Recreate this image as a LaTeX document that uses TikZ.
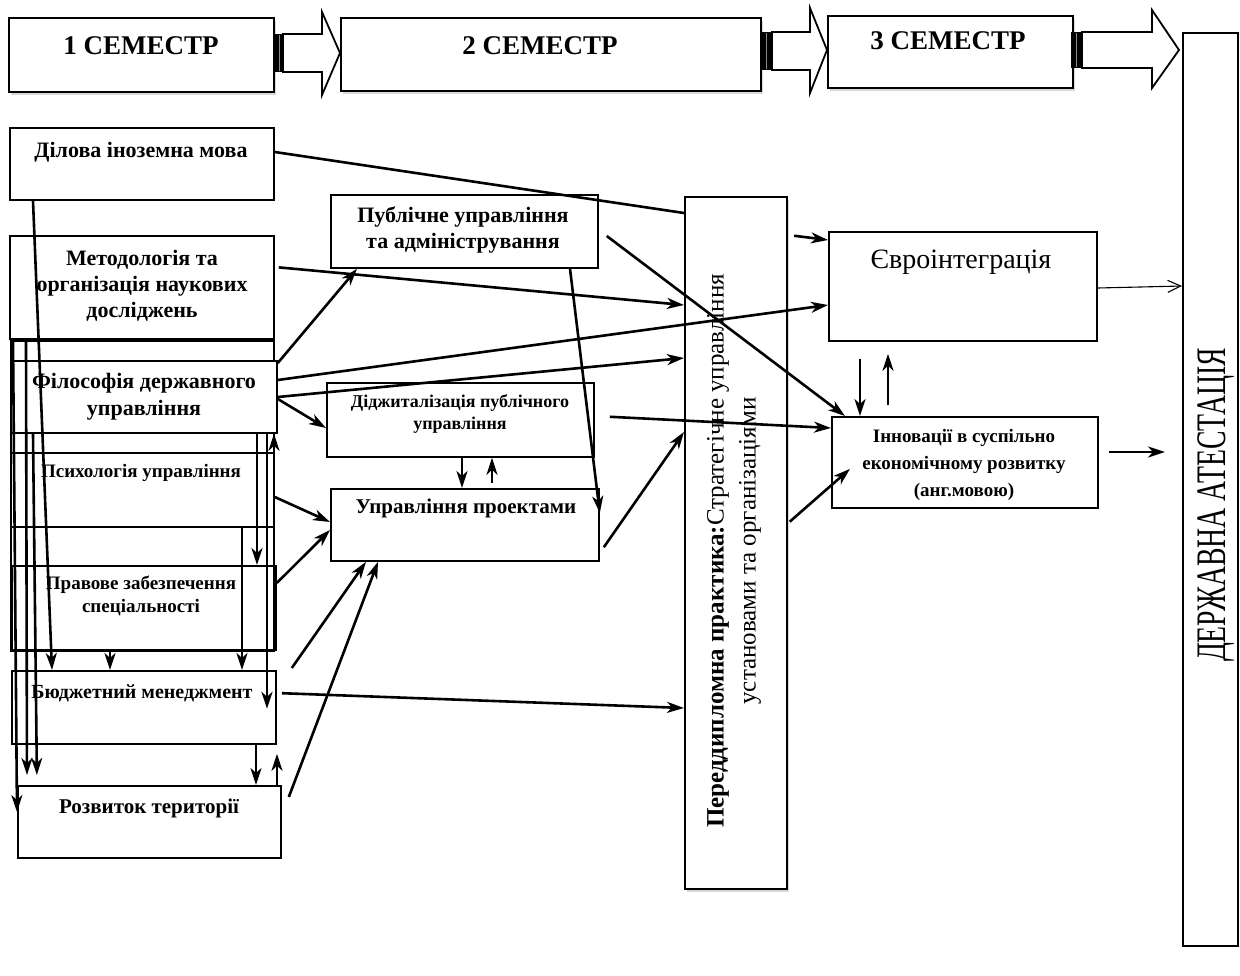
\documentclass[tikz,border=0pt]{standalone}
\usepackage{fontspec}
\usepackage{graphicx}
\setmainfont{Liberation Serif}
\usetikzlibrary{arrows.meta,shadows}
\newcommand\fsz[2]{\fontsize{#1pt}{#2pt}\selectfont}
\begin{document}
\begin{tikzpicture}[x=1pt,y=-1pt,
  box/.style={draw, line width=1.8pt, fill=white, inner sep=0pt, anchor=north west},
  shbox/.style={box, line width=2.2pt, drop shadow={shadow xshift=2pt,shadow yshift=-3pt,fill=black!30}},
  lbl/.style={inner sep=0pt, align=center},
  ar/.style={line width=2.6pt, -{Stealth[length=17pt,width=11pt,inset=5pt]}},
  ln/.style={line width=2.6pt},
  thinar/.style={line width=1.1pt, -{Straight Barb[length=13pt,width=12pt,line width=1.1pt]}},
  blk/.style={line width=1.8pt, fill=white, line join=miter}]
\useasboundingbox (0,0) rectangle (1240,975);
\fill[white] (0,0) rectangle (1240,975);

% header boxes
\node[shbox, minimum width=265pt, minimum height=74pt] (s1) at (8,17) {};
\node[shbox, minimum width=420pt, minimum height=73pt] (s2) at (340,17) {};
\node[shbox, minimum width=245pt, minimum height=72pt] (s3) at (827,15) {};
\node[box, minimum width=55pt, minimum height=913pt] (da) at (1182,32) {};

% header block arrows
\draw[blk] (283,34) -- (322,34) -- (322,12) -- (340,53) -- (322,95) -- (322,72) -- (283,72) -- cycle;
\fill (273,34) rectangle (283,72);
\draw[black!45, line width=0.8pt] (279,35) -- (279,71);
\draw[blk] (772,32) -- (810,32) -- (810,8) -- (827,50) -- (810,93) -- (810,70) -- (772,70) -- cycle;
\fill (760,32) rectangle (772,70);
\draw[black!45, line width=0.8pt] (766,33) -- (766,69);
\draw[blk] (1082,32) -- (1152,32) -- (1152,10) -- (1179,50) -- (1152,88) -- (1152,68) -- (1082,68) -- cycle;
\fill (1071,32) rectangle (1082,68);
\draw[black!45, line width=0.8pt] (1076,33) -- (1076,67);

% left column boxes
\node[box, minimum width=264pt, minimum height=72pt] (dil) at (9,127) {};
\node[box, minimum width=264pt, minimum height=103pt] (met) at (9,235) {};
\node[box, minimum width=263pt, minimum height=310pt] (frame) at (10,340) {};
\node[box, minimum width=266pt, minimum height=72pt] (fil) at (10,360) {};
\node[box, minimum width=263pt, minimum height=74pt] (psy) at (10,452) {};
\node[box, minimum width=264pt, minimum height=84pt] (prav) at (11,565) {};
\node[box, minimum width=264pt, minimum height=73pt] (bud) at (11,670) {};
\node[box, minimum width=263pt, minimum height=72pt] (roz) at (17,785) {};

% middle boxes
\node[box, minimum width=267pt, minimum height=73pt] (pub) at (330,194) {};
\node[box, minimum width=267pt, minimum height=74pt] (dig) at (326,382) {};
\node[box, minimum width=268pt, minimum height=72pt] (upr) at (330,488) {};
\node[shbox, minimum width=102pt, minimum height=692pt] (per) at (684,196) {};
\node[box, minimum width=268pt, minimum height=109pt] (evro) at (828,231) {};
\node[box, minimum width=266pt, minimum height=91pt] (inn) at (831,416) {};

% texts
\node[lbl, font=\bfseries\fsz{27}{32}] (s1t) at (141,46) {1 СЕМЕСТР};
\node[lbl, font=\bfseries\fsz{27}{32}] (s2t) at (540,46) {2 СЕМЕСТР};
\node[lbl, font=\bfseries\fsz{27}{32}] (s3t) at (948,41) {3 СЕМЕСТР};
\node[lbl, rotate=90, font=\fsz{42}{48}] (dat) at (1216,505) {\scalebox{0.66}[1]{ДЕРЖАВНА АТЕСТАЦІЯ}};

\node[lbl, font=\bfseries\fsz{22}{26}] (dilt) at (141,152) {Ділова іноземна мова};
\node[lbl, font=\bfseries\fsz{22}{26}] (mett) at (142,286) {Методологія та\\організація наукових\\досліджень};
\node[lbl, font=\bfseries\fsz{22}{27}] (filt) at (144,397) {Філософія державного\\управління};
\node[lbl, font=\bfseries\fsz{19}{22}] (psyt) at (141,473) {Психологія управління};
\node[lbl, font=\bfseries\fsz{19}{23}] (pravt) at (141,596) {Правове забезпечення\\спеціальності};
\node[lbl, font=\bfseries\fsz{20}{24}] (budt) at (142,693) {Бюджетний менеджмент};
\node[lbl, font=\bfseries\fsz{21}{25}] (rozt) at (149,808) {Розвиток території};

\node[lbl, font=\bfseries\fsz{22}{26}] (pubt) at (463,230) {Публічне управління\\та адміністрування};
\node[lbl, font=\bfseries\fsz{18}{22}] (digt) at (460,414) {Діджиталізація публічного\\управління};
\node[lbl, font=\bfseries\fsz{21}{25}] (uprt) at (466,508) {Управління проектами};
\node[lbl, font=\fsz{28}{32}] (evrot) at (961,262) {Євроінтеграція};
\node[lbl, font=\bfseries\fsz{19}{27}] (innt) at (964,465) {Інновації в суспільно\\економічному розвитку\\(анг.мовою)};
\node[lbl, rotate=90, font=\fsz{25}{32}] (pert) at (734,551) {\textbf{Переддипломна практика:}Стратегічне управління\\установами та організаціями};

% connectors, middle
\draw[ln] (dil.east |- 0,152) -- (per.west |- 0,213);
\draw[ar, shorten <=6pt] (per.east |- 0,235) -- (evro.west |- 0,240);
\draw[ar, shorten <=4pt] (met.east |- 0,267) -- (per.west |- 0,305);
\draw[ar] (fil.east |- 0,363) -- (pub.south -| 357,0);
\draw[ar] (fil.east |- 0,380) -- (evro.west |- 0,305);
\draw[ar] (fil.east |- 0,397) -- (per.west |- 0,358);
\draw[ar] (fil.east |- 0,399) -- (dig.west |- 0,428);
\draw[ar, shorten <=10pt] (pub.east |- 0,230) -- (inn.north -| 845,0);
\draw[ar] (pub.south -| 570,0) -- (upr.east |- 0,513);
\draw[ar, shorten <=15pt] (dig.east |- 0,416) -- (inn.west |- 0,428);
\draw[ar] (dig.south -| 462,0) -- (upr.north -| 462,0);
\draw[ar, shorten <=5pt] (upr.north -| 492,0) -- (dig.south -| 492,0);
\draw[ar, shorten <=7pt] (upr.east |- 0,553) -- (per.west |- 0,432);
\draw[ar] (psy.east |- 0,497) -- (upr.west |- 0,522);
\draw[ar] (prav.east |- 0,583) -- (upr.west |- 0,530);
\draw[ar] ([xshift=15pt,yshift=2pt]bud.north east) -- (upr.south -| 366,0);
\draw[ar] ([xshift=7pt,yshift=-12pt]roz.north east) -- (upr.south -| 378,0);
\draw[ar, shorten <=5pt] (bud.east |- 0,693) -- (per.west |- 0,708);
\draw[ar, shorten <=2pt] (per.east |- 0,523) -- ([xshift=19pt,yshift=-6.5pt]inn.west);
\draw[ar, shorten <=17pt] (evro.south -| 860,0) -- (inn.north -| 860,0);
\draw[ar, shorten <=11pt, shorten >=12pt] (inn.north -| 888,0) -- (evro.south -| 888,0);
\draw[thinar] (evro.east |- 0,288) -- (da.west |- 0,286);
\draw[ar, shorten <=10pt, shorten >=17pt] (inn.east |- 0,452) -- (da.west |- 0,452);

% connectors, left column
\draw[ar] (dil.south -| 33,0) -- (bud.north -| 52,0);
\draw[ar] (frame.north -| 13,0) -- (roz.west |- 0,812);
\draw[ar, shorten >=10pt] (frame.north -| 26,0) -- (roz.north -| 27,0);
\draw[ar, shorten >=10pt] (fil.south -| 33,0) -- (roz.north -| 37,0);
\draw[ar] (fil.south -| 257,0) -- (prav.north -| 257,0);
\draw[ar, shorten >=36pt] (fil.south -| 267,0) -- (bud.south -| 267,0);
\draw[ar] (prav.south -| 274,0) -- (fil.south -| 274,0);
\draw[ar] (psy.south -| 242,0) -- (bud.north -| 242,0);
\draw[ar] (prav.south -| 110,0) -- (bud.north -| 110,0);
\draw[ar] (bud.south -| 256,0) -- (roz.north -| 256,0);
\draw[ar, shorten >=9pt] (roz.north -| 277,0) -- (bud.south -| 277,0);
\end{tikzpicture}
\end{document}
